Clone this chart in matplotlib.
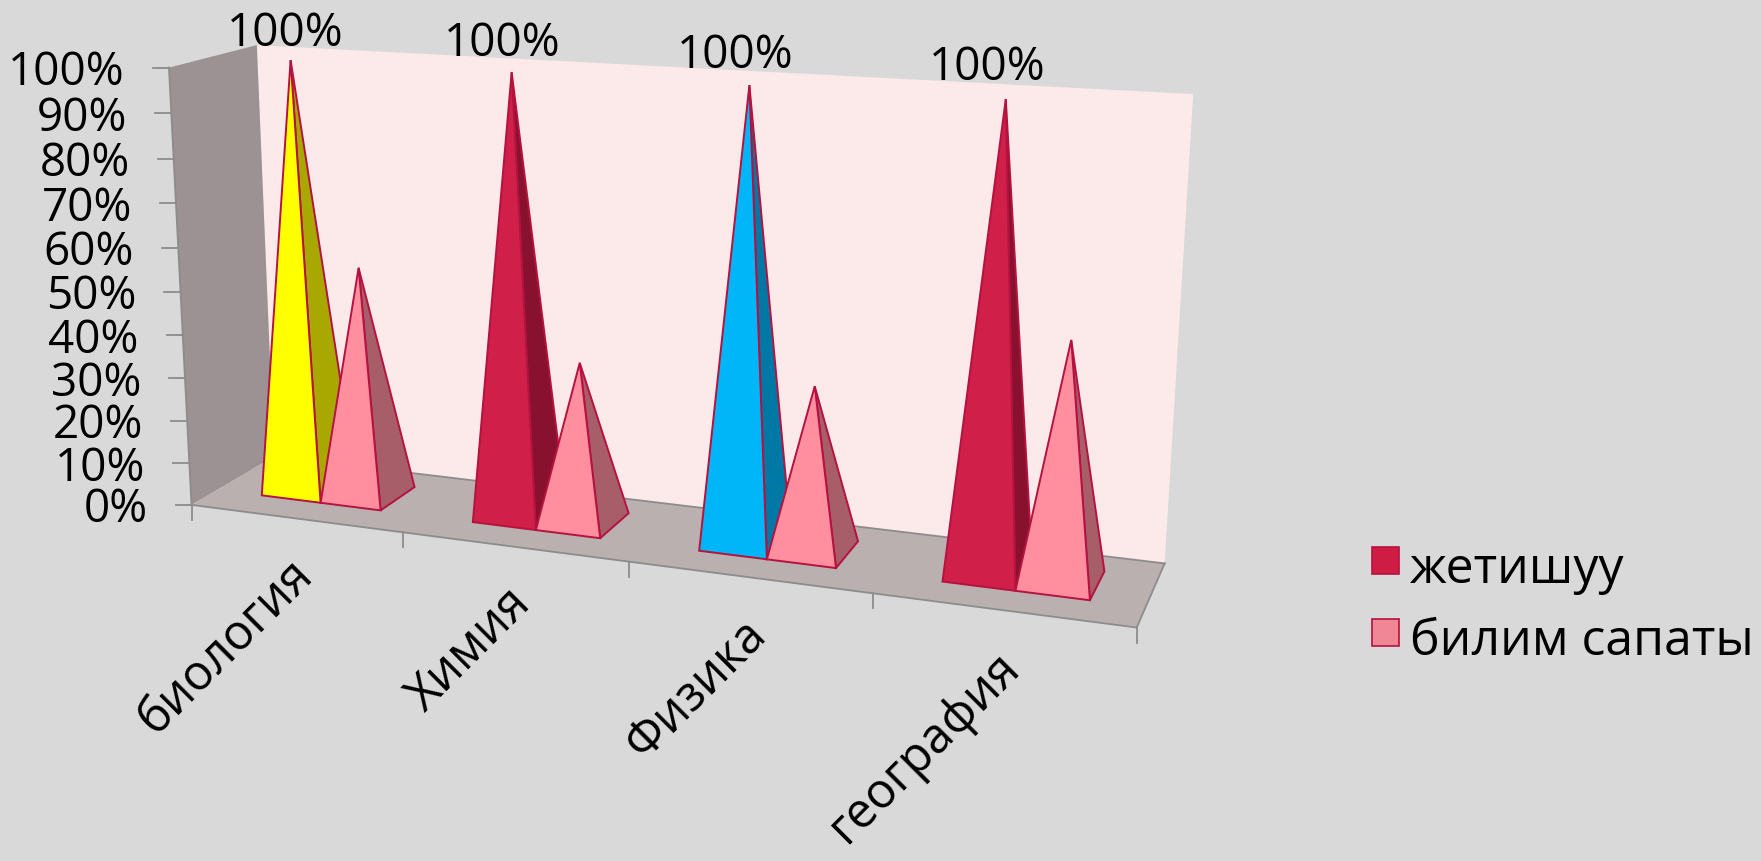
import numpy as np
import matplotlib
matplotlib.use("Agg")
from matplotlib import pyplot as plt
from matplotlib.patches import Polygon, Rectangle

categories = ["биология", "Химия", "Физика", "география"]
zhetishuu = [100, 100, 100, 100]
bilim_sapaty = [54, 37, 37, 52]
y_ticks = [0, 10, 20, 30, 40, 50, 60, 70, 80, 90, 100]
front_colours = ["#FFFF00", "#D01F48", "#00B6F8", "#D01F48"]
side_colours = ["#A8A800", "#87112E", "#0078A5", "#87112E"]
pink_front = "#FF8F9F"
pink_side = "#A85E68"
edge_colour = "#B5123F"
axis_grey = "#8C8C8C"

plt.rcParams["font.family"] = ["Open Sans", "DejaVu Sans"]

# box corners (category pos, depth, share of height) -> where they are in the image
world = [(0, 0, 0), (0, 0, 1), (0, 1, 1), (0, 1, 0), (4, 1, 1), (4, 1, 0), (4, 0, 0),
         (1, 0, 0), (2, 0, 0), (3, 0, 0), (0, 0, 0.5)]
image_pts = [(195, 505), (166, 66), (260, 47), (270, 456), (1193, 94), (1166, 562), (1136, 628),
             (404, 532), (630, 563), (872, 594), (180, 291)]


def fit_camera(world, image_pts):
    rows = []
    for (x, y, z), (px, py) in zip(world, image_pts):
        rows.append([x, y, z, 1, 0, 0, 0, 0, -px * x, -px * y, -px * z, -px])
        rows.append([0, 0, 0, 0, x, y, z, 1, -py * x, -py * y, -py * z, -py])
    return np.linalg.svd(np.array(rows, dtype=float))[2][-1].reshape(3, 4)


cam = fit_camera(world, image_pts)


def proj(u, d, v):
    p = cam @ np.array([u, d, v, 1.0])
    return p[0] / p[2], p[1] / p[2]


def face(ax, pts, colour, edge="none", lw=0.0, z=1):
    ax.add_patch(Polygon([proj(*p) for p in pts], closed=True, facecolor=colour, edgecolor=edge,
                         linewidth=lw, joinstyle="miter", zorder=z))


def pyramid(ax, u0, u1, value, front, side):
    d0, d1 = 0.30, 0.76
    top = ((u0 + u1) / 2, 0.50, value / 100)
    face(ax, [(u1, d0, 0), (u1, d1, 0), top], side, edge_colour, 1.4, 3)
    face(ax, [(u0, d0, 0), (u1, d0, 0), top], front, edge_colour, 1.4, 3)


fig = plt.figure(figsize=(17.61, 8.61), dpi=100, facecolor="#D9D9D9")
ax = fig.add_axes([0, 0, 1, 1])
ax.set_xlim(0, 1761)
ax.set_ylim(861, 0)
ax.axis("off")

# walls and floor
face(ax, [(0, 1, 0), (0, 1, 1), (4, 1, 1), (4, 1, 0)], "#FCE9E9")
face(ax, [(0, 0, 0), (0, 0, 1), (0, 1, 1), (0, 1, 0)], "#9C9193")
face(ax, [(0, 0, 0), (4, 0, 0), (4, 1, 0), (0, 1, 0)], "#BAB0B0")

for a, b in [((0, 0, 0), (4, 0, 0)), ((4, 0, 0), (4, 1, 0)), ((0, 0, 0), (0, 0, 1)), ((0, 1, 0), (4, 1, 0))]:
    pa, pb = proj(*a), proj(*b)
    ax.plot([pa[0], pb[0]], [pa[1], pb[1]], color=axis_grey, linewidth=1.3)

# y axis
for t in y_ticks:
    x, y = proj(0, 0, t / 100)
    ax.plot([x - 16, x], [y, y], color=axis_grey, linewidth=1.3)
    ax.text(x - 44, y, str(t) + "%", ha="right", va="center_baseline", fontsize=33, color="black")

# x axis ticks and labels
for i in range(len(categories) + 1):
    x, y = proj(i, 0, 0)
    ax.plot([x, x], [y, y + 15], color=axis_grey, linewidth=1.3)
for i, name in enumerate(categories):
    x, y = proj(i + 0.5, 0, 0)
    ax.text(x + 10, y + 50, name, rotation=45, rotation_mode="anchor", ha="right", va="center",
            fontsize=35, color="black")

# pyramids, gap 150%
w = 1 / 3.5
for i in range(len(categories)):
    u0 = i + 0.75 * w + 0.005
    pyramid(ax, u0, u0 + w, zhetishuu[i], front_colours[i], side_colours[i])
    pyramid(ax, u0 + w, u0 + 2 * w, bilim_sapaty[i], pink_front, pink_side)
    # the labels drift left of the tips further along the axis
    x, y = proj((u0 + w / 2) * 0.975 + 0.02, 0.42, zhetishuu[i] / 100 + 0.075)
    ax.text(x, y, str(zhetishuu[i]) + "%", ha="center", va="center_baseline", fontsize=33, color="black",
            zorder=4)

# legend
legend_names = ["жетишуу", "билим сапаты"]
legend_colours = ["#CE1C45", "#EF8795"]
for name, colour, y in zip(legend_names, legend_colours, [561, 633]):
    ax.add_patch(Rectangle((1372, y - 14), 27, 27, facecolor=colour, edgecolor=edge_colour, linewidth=1.2))
    ax.text(1410, y + 3, name, ha="left", va="center_baseline", fontsize=36, color="black")

fig.savefig("out.png", dpi=100, facecolor=fig.get_facecolor())
